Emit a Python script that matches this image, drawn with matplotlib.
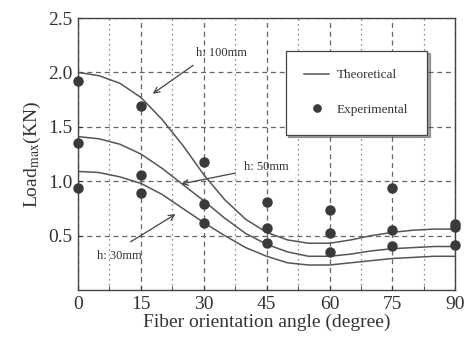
import numpy as np
import matplotlib
matplotlib.use("Agg")
import matplotlib.pyplot as plt
from matplotlib.ticker import MultipleLocator

plt.rcParams['font.family'] = ['Liberation Serif', 'DejaVu Serif']
plt.rcParams['mathtext.fontset'] = 'stix'

# theoretical curves (every 5 degrees)
angle = [0, 5, 10, 15, 20, 25, 30, 35, 40, 45, 50, 55, 60, 65, 70, 75, 80, 85, 90]
theo_100 = [2.00, 1.97, 1.90, 1.77, 1.57, 1.33, 1.06, 0.83, 0.65, 0.53,
            0.46, 0.43, 0.43, 0.46, 0.50, 0.53, 0.55, 0.56, 0.56]
theo_50 = [1.41, 1.39, 1.34, 1.25, 1.12, 0.97, 0.82, 0.66, 0.52, 0.42,
           0.35, 0.31, 0.31, 0.33, 0.36, 0.38, 0.39, 0.40, 0.40]
theo_30 = [1.09, 1.08, 1.04, 0.98, 0.88, 0.75, 0.62, 0.50, 0.39, 0.31,
           0.25, 0.23, 0.23, 0.25, 0.27, 0.29, 0.30, 0.31, 0.31]

# experimental points
exp_angle = [0, 0, 0, 15, 15, 15, 30, 30, 30, 45, 45, 45,
             60, 60, 60, 75, 75, 75, 90, 90, 90]
exp_load = [1.92, 1.35, 0.94, 1.69, 1.06, 0.89, 1.18, 0.79, 0.62, 0.81, 0.57, 0.43,
            0.74, 0.52, 0.35, 0.935, 0.555, 0.40, 0.61, 0.575, 0.41]

line_c = '#555555'
dot_c = '#3a3a3a'
txt_c = '#333333'

fig = plt.figure(figsize=(4.67, 3.4), dpi=100)
ax = fig.add_axes([0.167, 0.147, 0.808, 0.80])

ax.plot(angle, theo_100, color=line_c, lw=1.1, label='Theoretical')
ax.plot(angle, theo_50, color=line_c, lw=1.1)
ax.plot(angle, theo_30, color=line_c, lw=1.1)
ax.plot(exp_angle, exp_load, 'o', color=dot_c, ms=6.5, clip_on=False, zorder=5,
        label='Experimental')

ax.set_xlim(0, 90)
ax.set_ylim(0, 2.5)
ax.xaxis.set_major_locator(MultipleLocator(15))
ax.xaxis.set_minor_locator(MultipleLocator(7.5))
ax.set_yticks([0.5, 1.0, 1.5, 2.0, 2.5])
ax.grid(True, which='major', ls=(0, (4, 3)), color='#666666', lw=0.9)
ax.grid(True, which='minor', axis='x', ls=(0, (1, 3)), color='#666666', lw=0.9)
ax.tick_params(which='both', direction='in', labelsize=14, colors=txt_c, length=3)
ax.tick_params(which='major', pad=4)
for s in ax.spines.values():
    s.set_color('#444444')
    s.set_linewidth(1.0)

ax.set_xlabel('Fiber orientation angle (degree)', fontsize=14, color=txt_c, labelpad=1)
ax.set_ylabel(r'Load$_{\mathrm{max}}$(KN)', fontsize=14, color=txt_c, labelpad=4)

arw = dict(arrowstyle='->', color='#444444', lw=0.9)
ax.text(28.2, 2.18, 'h: 100mm', fontsize=9, color=txt_c, va='center', ha='left')
ax.annotate('', xy=(17.3, 1.79), xytext=(28.0, 2.08), arrowprops=arw)
ax.text(39.6, 1.13, 'h: 50mm', fontsize=9, color=txt_c, va='center', ha='left')
ax.annotate('', xy=(24.0, 0.97), xytext=(38.2, 1.08), arrowprops=arw)
ax.text(4.6, 0.31, 'h: 30mm', fontsize=9, color=txt_c, va='center', ha='left')
ax.annotate('', xy=(23.8, 0.71), xytext=(12.0, 0.43), arrowprops=arw)

leg = ax.legend(loc='upper left', bbox_to_anchor=(0.55, 0.88), fontsize=9.5,
                frameon=True, fancybox=False, shadow=True, borderpad=1.4,
                labelspacing=1.7, handlelength=1.9, handletextpad=0.6,
                borderaxespad=0, markerscale=0.8)
leg.get_frame().set_edgecolor('#444444')
leg.get_frame().set_linewidth(0.9)
for t in leg.get_texts():
    t.set_color(txt_c)

fig.savefig('out.png', dpi=100)
